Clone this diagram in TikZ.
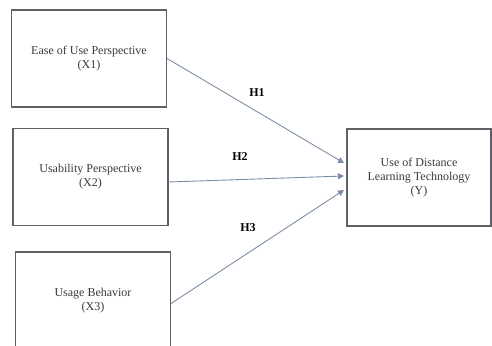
\documentclass[tikz,border=0pt]{standalone}
\usepackage{fontspec}
\setmainfont{Liberation Serif}
\usepackage{xcolor}
\usetikzlibrary{arrows.meta, positioning}

\definecolor{boxline}{HTML}{5F6166}
\definecolor{arrline}{HTML}{7D8DA6}
\definecolor{txt}{HTML}{3A3A3A}

\tikzset{
    var/.style={draw=boxline, line width=1.1pt, fill=white, text=txt,
        minimum width=155, minimum height=97, align=center,
        font=\fontsize{12}{14}\selectfont},
    hyp/.style={draw=arrline, line width=0.9pt, -{Triangle[length=6pt, width=6pt]}},
    hlab/.style={text=black, font=\fontsize{12}{14}\selectfont\bfseries}
}

\begin{document}
\begin{tikzpicture}[x=1pt, y=-1pt]
            \useasboundingbox (0,0) rectangle (492,345);
            \begin{scope}
            \clip (0,0) rectangle (492,345);

            \node[var] (ease) at (89,58.5) {Ease of Use Perspective\\(X1)};
            \node[var] (usab) at (90.5,177) {Usability Perspective\\(X2)};
            \node[var] (behv) at (93,300.5) {Usage Behavior\\(X3)};
            \node[var, minimum width=144] (dlt) at (419,177.5) {Use of Distance\\Learning Technology\\(Y)};

            % arrow ends just left of the Y box
            \coordinate (t1) at (344,163);
            \coordinate (t2) at (344,176);
            \coordinate (t3) at (344,190);

            \draw[hyp] (ease.east) -- (t1);
            \draw[hyp] ([yshift=-5]usab.east) -- (t2);
            \draw[hyp] ([yshift=-3]behv.east) -- (t3);

            \node[hlab] (h1) at (257,93) {H1};
            \node[hlab] (h2) at (240,157) {H2};
            \node[hlab] (h3) at (248,228) {H3};
            \end{scope}

        \end{tikzpicture}
\end{document}
